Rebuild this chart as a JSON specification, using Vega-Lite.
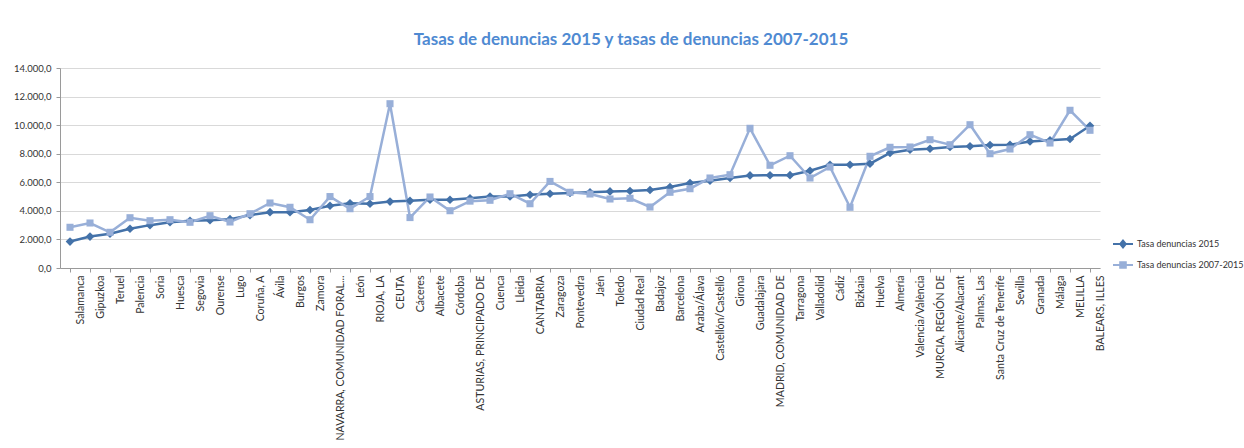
{
  "$schema": "https://vega.github.io/schema/vega-lite/v6.json",
  "autosize": {"type": "none"},
  "width": 1040,
  "height": 200,
  "padding": {"left": 60, "top": 68, "right": 144, "bottom": 180},
  "background": "white",
  "config": {
    "locale": {"number": {"decimal": ",", "thousands": ".", "grouping": [3], "currency": ["", " €"]}},
    "font": "Lato",
    "view": {"stroke": null}
  },
  "title": {
    "text": "Tasas de denuncias 2015 y tasas de denuncias 2007-2015",
    "font": "Lato",
    "fontSize": 17,
    "fontWeight": "bold",
    "color": "#4F8AD2",
    "anchor": "middle",
    "dx": 51,
    "offset": 14
  },
  "data": {
    "values": [
      {"provincia": "Salamanca", "serie": "Tasa denuncias 2015", "tasa": 1850},
      {"provincia": "Gipuzkoa", "serie": "Tasa denuncias 2015", "tasa": 2200},
      {"provincia": "Teruel", "serie": "Tasa denuncias 2015", "tasa": 2400},
      {"provincia": "Palencia", "serie": "Tasa denuncias 2015", "tasa": 2750},
      {"provincia": "Soria", "serie": "Tasa denuncias 2015", "tasa": 3000},
      {"provincia": "Huesca", "serie": "Tasa denuncias 2015", "tasa": 3200},
      {"provincia": "Segovia", "serie": "Tasa denuncias 2015", "tasa": 3300},
      {"provincia": "Ourense", "serie": "Tasa denuncias 2015", "tasa": 3350},
      {"provincia": "Lugo", "serie": "Tasa denuncias 2015", "tasa": 3420},
      {"provincia": "Coruña, A", "serie": "Tasa denuncias 2015", "tasa": 3700},
      {"provincia": "Ávila", "serie": "Tasa denuncias 2015", "tasa": 3910},
      {"provincia": "Burgos", "serie": "Tasa denuncias 2015", "tasa": 3900},
      {"provincia": "Zamora", "serie": "Tasa denuncias 2015", "tasa": 4060},
      {"provincia": "NAVARRA, COMUNIDAD FORAL...", "serie": "Tasa denuncias 2015", "tasa": 4360},
      {"provincia": "León", "serie": "Tasa denuncias 2015", "tasa": 4530},
      {"provincia": "RIOJA, LA", "serie": "Tasa denuncias 2015", "tasa": 4500},
      {"provincia": "CEUTA", "serie": "Tasa denuncias 2015", "tasa": 4650},
      {"provincia": "Cáceres", "serie": "Tasa denuncias 2015", "tasa": 4700},
      {"provincia": "Albacete", "serie": "Tasa denuncias 2015", "tasa": 4780},
      {"provincia": "Córdoba", "serie": "Tasa denuncias 2015", "tasa": 4780},
      {"provincia": "ASTURIAS, PRINCIPADO DE", "serie": "Tasa denuncias 2015", "tasa": 4880},
      {"provincia": "Cuenca", "serie": "Tasa denuncias 2015", "tasa": 5000},
      {"provincia": "Lleida", "serie": "Tasa denuncias 2015", "tasa": 5010},
      {"provincia": "CANTABRIA", "serie": "Tasa denuncias 2015", "tasa": 5130},
      {"provincia": "Zaragoza", "serie": "Tasa denuncias 2015", "tasa": 5200},
      {"provincia": "Pontevedra", "serie": "Tasa denuncias 2015", "tasa": 5250},
      {"provincia": "Jaén", "serie": "Tasa denuncias 2015", "tasa": 5300},
      {"provincia": "Toledo", "serie": "Tasa denuncias 2015", "tasa": 5360},
      {"provincia": "Ciudad Real", "serie": "Tasa denuncias 2015", "tasa": 5390},
      {"provincia": "Badajoz", "serie": "Tasa denuncias 2015", "tasa": 5460},
      {"provincia": "Barcelona", "serie": "Tasa denuncias 2015", "tasa": 5670},
      {"provincia": "Araba/Álava", "serie": "Tasa denuncias 2015", "tasa": 5950},
      {"provincia": "Castellón/Castelló", "serie": "Tasa denuncias 2015", "tasa": 6110},
      {"provincia": "Girona", "serie": "Tasa denuncias 2015", "tasa": 6300},
      {"provincia": "Guadalajara", "serie": "Tasa denuncias 2015", "tasa": 6480},
      {"provincia": "MADRID, COMUNIDAD DE", "serie": "Tasa denuncias 2015", "tasa": 6490},
      {"provincia": "Tarragona", "serie": "Tasa denuncias 2015", "tasa": 6500},
      {"provincia": "Valladolid", "serie": "Tasa denuncias 2015", "tasa": 6810},
      {"provincia": "Cádiz", "serie": "Tasa denuncias 2015", "tasa": 7220},
      {"provincia": "Bizkaia", "serie": "Tasa denuncias 2015", "tasa": 7230},
      {"provincia": "Huelva", "serie": "Tasa denuncias 2015", "tasa": 7300},
      {"provincia": "Almería", "serie": "Tasa denuncias 2015", "tasa": 8050},
      {"provincia": "Valencia/València", "serie": "Tasa denuncias 2015", "tasa": 8280},
      {"provincia": "MURCIA, REGIÓN DE", "serie": "Tasa denuncias 2015", "tasa": 8350},
      {"provincia": "Alicante/Alacant", "serie": "Tasa denuncias 2015", "tasa": 8470},
      {"provincia": "Palmas, Las", "serie": "Tasa denuncias 2015", "tasa": 8520},
      {"provincia": "Santa Cruz de Tenerife", "serie": "Tasa denuncias 2015", "tasa": 8610},
      {"provincia": "Sevilla", "serie": "Tasa denuncias 2015", "tasa": 8630},
      {"provincia": "Granada", "serie": "Tasa denuncias 2015", "tasa": 8860},
      {"provincia": "Málaga", "serie": "Tasa denuncias 2015", "tasa": 8940},
      {"provincia": "MELILLA", "serie": "Tasa denuncias 2015", "tasa": 9030},
      {"provincia": "BALEARS, ILLES", "serie": "Tasa denuncias 2015", "tasa": 9960},
      {"provincia": "Salamanca", "serie": "Tasa denuncias 2007-2015", "tasa": 2850},
      {"provincia": "Gipuzkoa", "serie": "Tasa denuncias 2007-2015", "tasa": 3150},
      {"provincia": "Teruel", "serie": "Tasa denuncias 2007-2015", "tasa": 2500},
      {"provincia": "Palencia", "serie": "Tasa denuncias 2007-2015", "tasa": 3520},
      {"provincia": "Soria", "serie": "Tasa denuncias 2007-2015", "tasa": 3310},
      {"provincia": "Huesca", "serie": "Tasa denuncias 2007-2015", "tasa": 3380},
      {"provincia": "Segovia", "serie": "Tasa denuncias 2007-2015", "tasa": 3200},
      {"provincia": "Ourense", "serie": "Tasa denuncias 2007-2015", "tasa": 3660},
      {"provincia": "Lugo", "serie": "Tasa denuncias 2007-2015", "tasa": 3220},
      {"provincia": "Coruña, A", "serie": "Tasa denuncias 2007-2015", "tasa": 3800},
      {"provincia": "Ávila", "serie": "Tasa denuncias 2007-2015", "tasa": 4550},
      {"provincia": "Burgos", "serie": "Tasa denuncias 2007-2015", "tasa": 4250},
      {"provincia": "Zamora", "serie": "Tasa denuncias 2007-2015", "tasa": 3380},
      {"provincia": "NAVARRA, COMUNIDAD FORAL...", "serie": "Tasa denuncias 2007-2015", "tasa": 5000},
      {"provincia": "León", "serie": "Tasa denuncias 2007-2015", "tasa": 4150},
      {"provincia": "RIOJA, LA", "serie": "Tasa denuncias 2007-2015", "tasa": 5000},
      {"provincia": "CEUTA", "serie": "Tasa denuncias 2007-2015", "tasa": 11500},
      {"provincia": "Cáceres", "serie": "Tasa denuncias 2007-2015", "tasa": 3530},
      {"provincia": "Albacete", "serie": "Tasa denuncias 2007-2015", "tasa": 4970},
      {"provincia": "Córdoba", "serie": "Tasa denuncias 2007-2015", "tasa": 4010},
      {"provincia": "ASTURIAS, PRINCIPADO DE", "serie": "Tasa denuncias 2007-2015", "tasa": 4680},
      {"provincia": "Cuenca", "serie": "Tasa denuncias 2007-2015", "tasa": 4740},
      {"provincia": "Lleida", "serie": "Tasa denuncias 2007-2015", "tasa": 5200},
      {"provincia": "CANTABRIA", "serie": "Tasa denuncias 2007-2015", "tasa": 4500},
      {"provincia": "Zaragoza", "serie": "Tasa denuncias 2007-2015", "tasa": 6060},
      {"provincia": "Pontevedra", "serie": "Tasa denuncias 2007-2015", "tasa": 5300},
      {"provincia": "Jaén", "serie": "Tasa denuncias 2007-2015", "tasa": 5180},
      {"provincia": "Toledo", "serie": "Tasa denuncias 2007-2015", "tasa": 4830},
      {"provincia": "Ciudad Real", "serie": "Tasa denuncias 2007-2015", "tasa": 4880},
      {"provincia": "Badajoz", "serie": "Tasa denuncias 2007-2015", "tasa": 4270},
      {"provincia": "Barcelona", "serie": "Tasa denuncias 2007-2015", "tasa": 5300},
      {"provincia": "Araba/Álava", "serie": "Tasa denuncias 2007-2015", "tasa": 5550},
      {"provincia": "Castellón/Castelló", "serie": "Tasa denuncias 2007-2015", "tasa": 6300},
      {"provincia": "Girona", "serie": "Tasa denuncias 2007-2015", "tasa": 6530},
      {"provincia": "Guadalajara", "serie": "Tasa denuncias 2007-2015", "tasa": 9780},
      {"provincia": "MADRID, COMUNIDAD DE", "serie": "Tasa denuncias 2007-2015", "tasa": 7190},
      {"provincia": "Tarragona", "serie": "Tasa denuncias 2007-2015", "tasa": 7860},
      {"provincia": "Valladolid", "serie": "Tasa denuncias 2007-2015", "tasa": 6300},
      {"provincia": "Cádiz", "serie": "Tasa denuncias 2007-2015", "tasa": 7070},
      {"provincia": "Bizkaia", "serie": "Tasa denuncias 2007-2015", "tasa": 4250},
      {"provincia": "Huelva", "serie": "Tasa denuncias 2007-2015", "tasa": 7820},
      {"provincia": "Almería", "serie": "Tasa denuncias 2007-2015", "tasa": 8450},
      {"provincia": "Valencia/València", "serie": "Tasa denuncias 2007-2015", "tasa": 8470},
      {"provincia": "MURCIA, REGIÓN DE", "serie": "Tasa denuncias 2007-2015", "tasa": 8980},
      {"provincia": "Alicante/Alacant", "serie": "Tasa denuncias 2007-2015", "tasa": 8630},
      {"provincia": "Palmas, Las", "serie": "Tasa denuncias 2007-2015", "tasa": 10030},
      {"provincia": "Santa Cruz de Tenerife", "serie": "Tasa denuncias 2007-2015", "tasa": 8000},
      {"provincia": "Sevilla", "serie": "Tasa denuncias 2007-2015", "tasa": 8330},
      {"provincia": "Granada", "serie": "Tasa denuncias 2007-2015", "tasa": 9330},
      {"provincia": "Málaga", "serie": "Tasa denuncias 2007-2015", "tasa": 8750},
      {"provincia": "MELILLA", "serie": "Tasa denuncias 2007-2015", "tasa": 11040},
      {"provincia": "BALEARS, ILLES", "serie": "Tasa denuncias 2007-2015", "tasa": 9640}
    ]
  },
  "encoding": {
    "x": {
      "field": "provincia",
      "type": "nominal",
      "sort": null,
      "title": null,
      "scale": {"paddingInner": 0, "paddingOuter": 0},
      "axis": {
        "bandPosition": 0,
        "labelOffset": 10,
        "labelAngle": -90,
        "labelAlign": "right",
        "labelBaseline": "middle",
        "labelFont": "Lato",
        "labelFontSize": 10.6,
        "labelColor": "#333333",
        "labelPadding": 3,
        "labelLimit": 200,
        "ticks": true,
        "tickSize": 4,
        "tickColor": "#9A9A9A",
        "domainColor": "#9A9A9A",
        "grid": false
      }
    },
    "y": {
      "field": "tasa",
      "type": "quantitative",
      "title": null,
      "scale": {"domain": [0, 14000], "nice": false},
      "axis": {
        "values": [0, 2000, 4000, 6000, 8000, 10000, 12000, 14000],
        "format": ",.1f",
        "labelFont": "Lato",
        "labelFontSize": 9.5,
        "labelColor": "#333333",
        "labelPadding": 5,
        "tickSize": 4,
        "tickColor": "#9A9A9A",
        "domainColor": "#9A9A9A",
        "gridColor": "#D9D9D9",
        "gridWidth": 1.2
      }
    },
    "color": {
      "field": "serie",
      "type": "nominal",
      "sort": ["Tasa denuncias 2015", "Tasa denuncias 2007-2015"],
      "scale": {"domain": ["Tasa denuncias 2015", "Tasa denuncias 2007-2015"], "range": ["#4472A9", "#98AFD8"]},
      "legend": {
        "title": null,
        "orient": "none",
        "legendX": 1052,
        "legendY": 165,
        "labelFont": "Lato",
        "labelFontSize": 9,
        "labelColor": "#333333",
        "labelLimit": 200,
        "symbolSize": 400,
        "symbolStrokeWidth": 2,
        "labelOffset": 3,
        "rowPadding": 2,
        "encode": {
          "symbols": {
            "update": {
              "shape": {"signal": "datum.value === 'Tasa denuncias 2015' ? 'M-1,0H1M0,-0.35L0.28,0L0,0.35L-0.28,0Z' : 'M-1,0H1M-0.28,-0.28H0.28V0.28H-0.28Z'"},
              "fill": {"signal": "scale('color', datum.value)"},
              "stroke": {"signal": "scale('color', datum.value)"},
              "strokeWidth": {"value": 2},
              "opacity": {"value": 1}
            }
          }
        }
      }
    }
  },
  "layer": [
    {
      "mark": {"type": "line", "strokeWidth": 2.5}
    },
    {
      "transform": [{"filter": "datum.serie === 'Tasa denuncias 2015'"}],
      "mark": {"type": "point", "shape": "diamond", "filled": true, "size": 75, "opacity": 1}
    },
    {
      "transform": [{"filter": "datum.serie === 'Tasa denuncias 2007-2015'"}],
      "mark": {"type": "point", "shape": "square", "filled": true, "size": 50, "opacity": 1}
    }
  ]
}
